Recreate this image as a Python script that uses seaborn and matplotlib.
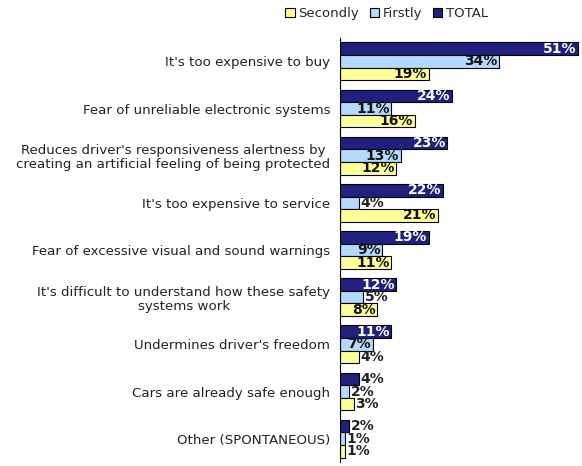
import matplotlib
matplotlib.use("Agg")
import matplotlib.pyplot as plt
import seaborn as sns
import pandas as pd
from matplotlib.patches import Patch

categories = [
    "It's too expensive to buy",
    "Fear of unreliable electronic systems",
    "Reduces driver's responsiveness alertness by\ncreating an artificial feeling of being protected",
    "It's too expensive to service",
    "Fear of excessive visual and sound warnings",
    "It's difficult to understand how these safety\nsystems work",
    "Undermines driver's freedom",
    "Cars are already safe enough",
    "Other (SPONTANEOUS)",
]
total = [51, 24, 23, 22, 19, 12, 11, 4, 2]
firstly = [34, 11, 13, 4, 9, 5, 7, 2, 1]
secondly = [19, 16, 12, 21, 11, 8, 4, 3, 1]
series = ["TOTAL", "Firstly", "Secondly"]
colors = {"TOTAL": "#20207F", "Firstly": "#B3D9FF", "Secondly": "#FFFF99"}

rows = []
for name, vals in zip(series, [total, firstly, secondly]):
    for c, v in zip(categories, vals):
        rows.append({"cat": c, "series": name, "val": v})
df = pd.DataFrame(rows)

sns.set_style("white")
plt.rcParams["font.family"] = ["DejaVu Sans"]
fig = plt.figure(figsize=(5.82, 4.66), dpi=100)
ax = fig.add_axes([0.584, 0.008, 0.412, 0.911])
sns.barplot(data=df, y="cat", x="val", hue="series", hue_order=series,
            order=categories, palette=colors, orient="h", width=0.8,
            saturation=1, edgecolor="black", linewidth=0.8, ax=ax, legend=False)

ax.set_xlim(0, 51.3)
ax.set_xlabel("")
ax.set_ylabel("")
ax.set_xticks([])
ax.set_ylim(len(categories) - 0.5, -0.5)
for s in ["top", "right", "bottom"]:
    ax.spines[s].set_visible(False)
ax.spines["left"].set_color("black")
ax.set_yticks(range(len(categories)))
ax.set_yticklabels(categories, fontsize=9.6, color="#222222", ha="right",
                   multialignment="center", linespacing=1.1)
ax.tick_params(axis="y", which="major", length=0, pad=7)
ax.set_yticks([i - 0.5 for i in range(len(categories) + 1)], minor=True)
ax.tick_params(axis="y", which="minor", length=4, width=0.8, color="black", direction="out")

for cont, name in zip(ax.containers, series):
    for bar in cont:
        v = bar.get_width()
        y = bar.get_y() + bar.get_height() / 2
        txt = f"{int(round(v))}%"
        if v >= 7:
            col = "white" if name == "TOTAL" else "#111111"
            ax.text(v - 0.3, y, txt, ha="right", va="center", fontsize=10,
                    fontweight="bold", color=col)
        else:
            ax.text(v + 0.3, y, txt, ha="left", va="center", fontsize=10,
                    fontweight="bold", color="#222222")

handles = [Patch(facecolor=colors[n], edgecolor="black", linewidth=0.8) for n in ["Secondly", "Firstly", "TOTAL"]]
fig.legend(handles, ["Secondly", "Firstly", "TOTAL"], loc="upper left",
           bbox_to_anchor=(0.47, 1.01), ncol=3, frameon=False, fontsize=9.5,
           handlelength=0.7, handleheight=0.7, handletextpad=0.3, columnspacing=0.8)

fig.savefig("out.png", dpi=100)
